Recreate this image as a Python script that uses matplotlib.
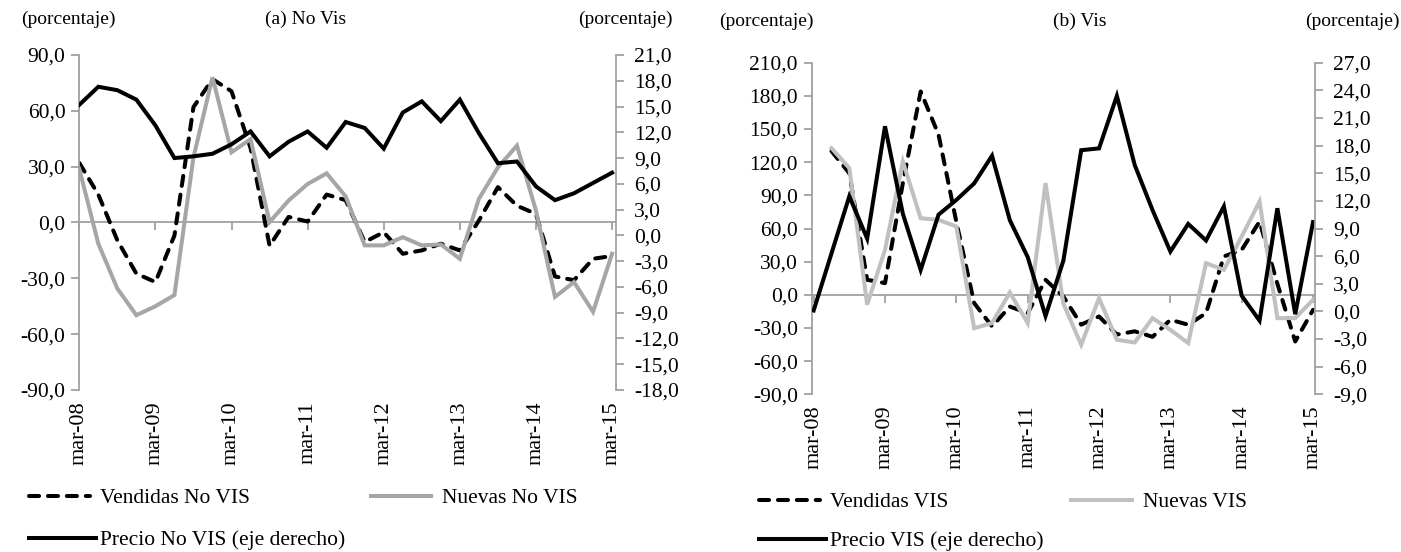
import numpy as np
import matplotlib.pyplot as plt
from matplotlib.lines import Line2D
from matplotlib.ticker import FuncFormatter

plt.rcParams['font.family'] = ['Liberation Serif', 'DejaVu Serif']

# trimestres mar-08 ... mar-15 (29 puntos)
anios = ['mar-08', 'mar-09', 'mar-10', 'mar-11', 'mar-12', 'mar-13', 'mar-14', 'mar-15']
nan = np.nan

# (a) No VIS - eje izquierdo
vendidas_novis = [32, 15, -9.6, -27.5, -32, -7, 62, 77, 70.5, 40, -12.5, 3, 0.5, 15, 12,
                  -10.5, -5.2, -16.8, -15, -11.4, -15, 1, 19, 9, 4.6, -29, -31, -19.5, -18]
nuevas_novis = [28.8, -11.4, -35.5, -49.8, -45, -39, 35, 78, 37.7, 44.8, 0.2, 11.8, 20.7, 26.4, 14,
                -12.3, -12.3, -7.9, -12.3, -11.8, -19.5, 12.7, 29.6, 41.3, 6.4, -40, -32, -48, -16.8]
# (a) No VIS - eje derecho
precio_novis = [15.2, 17.3, 16.9, 15.8, 12.8, 9.0, 9.2, 9.5, 10.6, 12.1, 9.2, 10.9, 12.1, 10.2, 13.2,
                12.5, 10.1, 14.3, 15.6, 13.3, 15.8, 11.9, 8.4, 8.6, 5.7, 4.1, 4.9, 6.1, 7.3]

# (b) VIS - eje izquierdo
vendidas_vis = [nan, 130, 110, 13.6, 10.6, 101, 184, 145, 66, -7.5, -28.6, -10.6, -16.6, 13.6, -1.5,
                -27, -19.6, -36, -33, -38, -22.6, -27, -16.6, 34.7, 40.7, 66.3, 10, -42.2, -13.6]
nuevas_vis = [nan, 132.7, 114.6, -9, 40.7, 120.6, 69.3, 67.8, 61.8, -30.2, -25.6, 2.1, -25.6, 101, -8,
              -45.2, -3, -40.7, -43.1, -21.1, -31.7, -43.7, 28.6, 22.6, 52.8, 84.4, -21.1, -21.1, -4.5]
# (b) VIS - eje derecho
precio_vis = [0.1, 6.3, 12.5, 7.9, 20.1, 10.6, 4.5, 10.5, 12.1, 13.9, 16.9, 9.9, 5.9, -0.5, 5.5,
              17.5, 17.7, 23.4, 15.9, 11.0, 6.5, 9.5, 7.7, 11.4, 1.7, -1.0, 11.2, -0.3, 9.7]

x = np.arange(len(precio_vis))
coma = FuncFormatter(lambda v, p: f'{v:.1f}'.replace('.', ','))
eje_gris = '#a0a0a0'
lw = 2.9
guiones = (0, (2.5, 2.2))
fs = 15.5

fig = plt.figure(figsize=(14.01, 5.52), dpi=100)


def panel(rect, vend, nuev, prec, gris, izq, der, xlim):
    ax = fig.add_axes(rect)
    ax.plot(x, vend, color='black', lw=lw, ls=guiones, dash_capstyle='round')
    ax.plot(x, nuev, color=gris, lw=lw, solid_joinstyle='miter')
    ax.set_ylim(izq[0], izq[1])
    ax.set_yticks(np.arange(izq[0], izq[1] + 1, 30))
    ax.yaxis.set_major_formatter(coma)
    ax.set_xlim(*xlim)
    ax.axhline(0, color=eje_gris, lw=1.3, zorder=1)
    ax.set_xticks(x[::4])
    ax.tick_params(axis='x', direction='out', length=6, color=eje_gris, width=1.3, labelbottom=False)
    ax.tick_params(axis='y', direction='out', length=6, color=eje_gris, width=1.3, labelsize=fs, pad=4)
    ax.spines['bottom'].set_position(('data', 0))
    ax.spines['bottom'].set_visible(False)
    ax.spines['top'].set_visible(False)
    ax.spines['right'].set_visible(False)
    ax.spines['left'].set_color(eje_gris)
    ax.spines['left'].set_linewidth(1.3)

    sec = ax.secondary_xaxis('bottom')
    sec.set_xticks(x[::4], anios, rotation=90, fontsize=16)
    sec.tick_params(length=0, pad=8)
    sec.spines['bottom'].set_visible(False)

    ax2 = ax.twinx()
    ax2.plot(x, prec, color='black', lw=lw, solid_joinstyle='miter')
    ax2.set_ylim(der[0], der[1])
    ax2.set_yticks(np.arange(der[0], der[1] + 0.1, 3))
    ax2.yaxis.set_major_formatter(coma)
    ax2.tick_params(axis='y', direction='out', length=6, color=eje_gris, width=1.3, labelsize=fs, pad=7)
    for s in ['top', 'bottom', 'left']:
        ax2.spines[s].set_visible(False)
    ax2.spines['right'].set_color(eje_gris)
    ax2.spines['right'].set_linewidth(1.3)
    ax2.set_xlim(*xlim)
    return ax


panel([0.0566, 0.2935, 0.3830, 0.6069], vendidas_novis, nuevas_novis, precio_novis,
      '#a6a6a6', (-90, 90), (-18, 21), (0, 28.2))
panel([0.5795, 0.2857, 0.3590, 0.6007], vendidas_vis, nuevas_vis, precio_vis,
      '#c0c0c0', (-90, 210), (-9, 27), (-0.1, 28.1))

# titulos
fig.text(0.015, 0.965, '(porcentaje)', fontsize=14, va='center')
fig.text(0.218, 0.965, '(a) No Vis', fontsize=14, va='center', ha='center')
fig.text(0.48, 0.965, '(porcentaje)', fontsize=14, va='center', ha='right')
fig.text(0.513, 0.962, '(porcentaje)', fontsize=14, va='center')
fig.text(0.771, 0.962, '(b) Vis', fontsize=14, va='center', ha='center')
fig.text(0.999, 0.962, '(porcentaje)', fontsize=14, va='center', ha='right')


# leyendas
def leyenda(etiquetas, gris, x0, y1, y2, sep):
    h_v = Line2D([], [], color='black', lw=lw, ls=guiones, dash_capstyle='round')
    h_n = Line2D([], [], color=gris, lw=lw)
    h_p = Line2D([], [], color='black', lw=lw)
    fig.legend([h_v, h_n], etiquetas[:2], ncol=2, loc='center left', bbox_to_anchor=(x0, y1),
               frameon=False, fontsize=15.5, handlelength=2.8, handletextpad=0.5,
               columnspacing=sep, borderpad=0, borderaxespad=0)
    fig.legend([h_p], etiquetas[2:], loc='center left', bbox_to_anchor=(x0, y2),
               frameon=False, fontsize=15.5, handlelength=3.1, handletextpad=0.2,
               borderpad=0, borderaxespad=0)


leyenda(['Vendidas No VIS', 'Nuevas No VIS', 'Precio No VIS (eje derecho)'], '#a6a6a6',
        0.021, 1 - 498 / 552, 1 - 540 / 552, 5.6)
leyenda(['Vendidas VIS', 'Nuevas VIS', 'Precio VIS (eje derecho)'], '#c0c0c0',
        0.542, 1 - 502 / 552, 1 - 541 / 552, 5.7)

fig.savefig('out.png', dpi=100)
